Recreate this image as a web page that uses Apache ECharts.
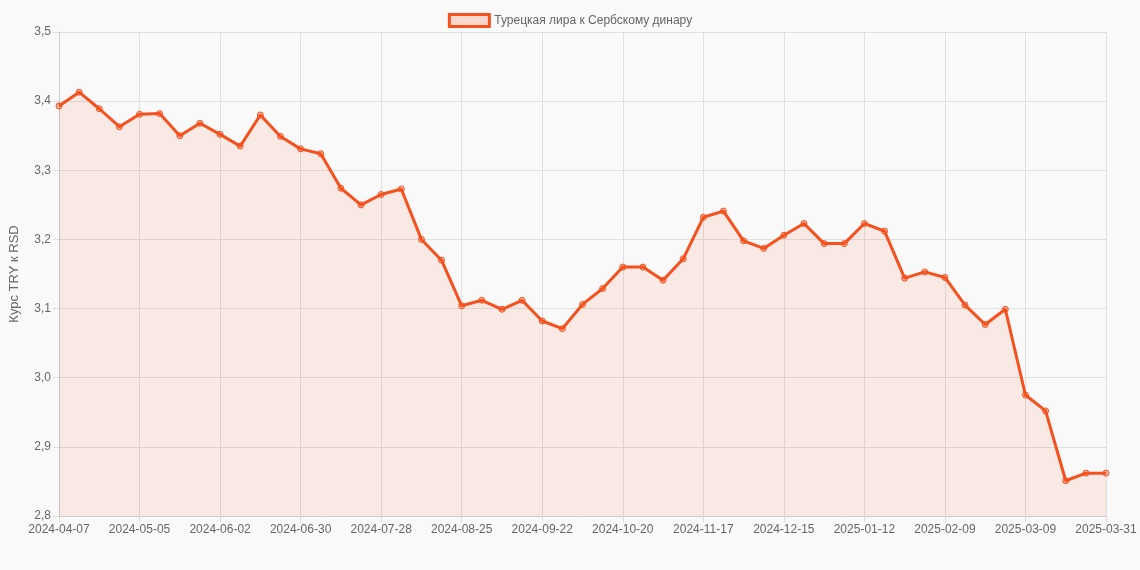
<!DOCTYPE html>
<html><head><meta charset="utf-8">
<script src="https://cdn.jsdelivr.net/npm/echarts@6/dist/echarts.min.js"></script>
<style>html,body{margin:0;background:#f9f9f9}#c{width:1140px;height:570px}</style>
</head><body><div id="c"></div>
<script>
var dates = ['2024-04-07','2024-04-14','2024-04-21','2024-04-28','2024-05-05','2024-05-12','2024-05-19','2024-05-26',
  '2024-06-02','2024-06-09','2024-06-16','2024-06-23','2024-06-30','2024-07-07','2024-07-14','2024-07-21','2024-07-28',
  '2024-08-04','2024-08-11','2024-08-18','2024-08-25','2024-09-01','2024-09-08','2024-09-15','2024-09-22','2024-09-29',
  '2024-10-06','2024-10-13','2024-10-20','2024-10-27','2024-11-03','2024-11-10','2024-11-17','2024-11-24',
  '2024-12-01','2024-12-08','2024-12-15','2024-12-22','2024-12-29','2025-01-05','2025-01-12','2025-01-19','2025-01-26',
  '2025-02-02','2025-02-09','2025-02-16','2025-02-23','2025-03-02','2025-03-09','2025-03-16','2025-03-23','2025-03-30','2025-03-31'];
var rates = [3.393,3.413,3.389,3.363,3.381,3.382,3.350,3.368,3.352,3.335,3.380,3.349,3.331,3.324,3.274,3.250,3.265,
  3.273,3.200,3.170,3.104,3.112,3.099,3.112,3.082,3.071,3.106,3.129,3.160,3.160,3.141,3.172,3.232,3.241,
  3.198,3.187,3.206,3.223,3.194,3.194,3.223,3.212,3.144,3.153,3.145,3.105,3.077,3.099,2.975,2.952,2.851,2.862,2.862];
var seriesName = 'Турецкая лира к Сербскому динару';

var myChart = echarts.init(document.getElementById('c'));
myChart.setOption({
    backgroundColor: '#f9f9f9',
    animation: false,
    textStyle: { fontFamily: 'Arial, Liberation Sans, sans-serif' },
    legend: {
        top: 8, itemWidth: 40, itemHeight: 12,
        textStyle: { color: '#666', fontSize: 12 },
        data: [{ name: seriesName, icon: 'rect', itemStyle: { color: 'rgba(244,81,30,0.2)', borderColor: '#f4511e', borderWidth: 3 } }]
    },
    grid: { left: 55, right: 34, top: 32, bottom: 54 },
    xAxis: {
        type: 'category', data: dates, boundaryGap: false,
        axisLine: { lineStyle: { color: '#ccc' } },
        axisTick: { show: true, interval: 3, length: 6, lineStyle: { color: '#ddd' } },
        axisLabel: { interval: 3, color: '#666', fontSize: 12 },
        splitLine: { show: true, interval: 3, lineStyle: { color: '#e0e0e0' } }
    },
    yAxis: {
        type: 'value', min: 2.8, max: 3.5, interval: 0.1,
        name: 'Курс TRY к RSD', nameLocation: 'middle', nameGap: 38,
        nameTextStyle: { color: '#666', fontSize: 13 },
        axisLine: { show: true, lineStyle: { color: '#ccc' } },
        axisTick: { show: true, length: 6, lineStyle: { color: '#ddd' } },
        axisLabel: { color: '#666', fontSize: 12, formatter: function (v) { return v.toFixed(1).replace('.', ','); } },
        splitLine: { lineStyle: { color: '#e0e0e0' } }
    },
    series: [{
        name: seriesName, type: 'line', data: rates,
        symbol: 'circle', symbolSize: 6,
        itemStyle: { color: 'rgba(244,81,30,0.35)', borderColor: '#f4511e', borderWidth: 1 },
        lineStyle: { color: '#f4511e', width: 3 },
        areaStyle: { color: 'rgba(244,81,30,0.13)' }
    }]
});
</script></body></html>
